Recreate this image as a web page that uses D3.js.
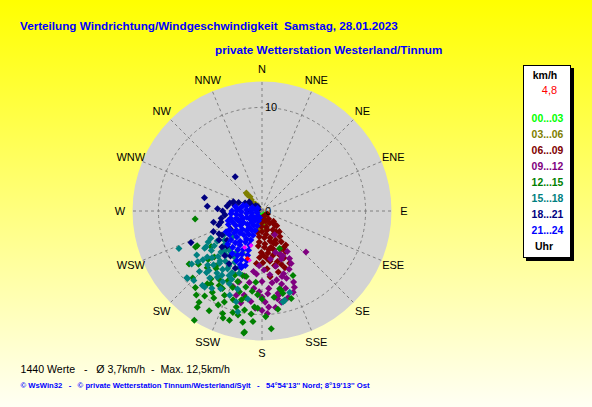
<!DOCTYPE html>
<html>
<head>
<meta charset="utf-8">
<script src="https://cdn.jsdelivr.net/npm/d3@7"></script>
<style>
    body { margin: 0; }
    svg { display: block; }
    text { font-family: "Liberation Sans", Arial, sans-serif; }
</style>
</head>
<body>
<svg id="chart"></svg>
<script>
'use strict';

// Himmelsrichtungen (im Uhrzeigersinn ab Nord) und Ringe der Geschwindigkeit
var directions = ["N", "NNE", "NE", "ENE", "E", "ESE", "SE", "SSE",
                  "S", "SSW", "SW", "WSW", "W", "WNW", "NW", "NNW"];
var speedTicks = [0, 10];
var speedMax = 12.5;

// Messwerte je Zeitraum: [Richtung in Grad, Geschwindigkeit km/h]
var h00_03 = [[160, 0.4], [200, 0.5], [180, 0.8], [140, 0.5], [170, 1.2]];

var h03_06 = [[318, 2.1], [316, 1.5], [317, 0.9], [315, 0.5], [320, 1.8], [312, 1.2],
              [319, 2.3], [193, 1.1], [167, 1.8], [175, 0.8], [160, 1.3], [150, 0.6], [188, 1.7]];

var h06_09 = [[120, 0.6], [150, 0.5], [175, 0.6], [140, 1.0], [160, 1.0], [180, 1.1], [195, 0.9],
              [132, 1.5], [148, 1.4], [165, 1.6], [182, 1.5], [135, 2.0], [150, 2.1], [165, 1.9],
              [180, 2.0], [192, 2.1], [140, 2.6], [152, 2.5], [163, 2.7], [175, 2.6], [186, 2.5],
              [145, 3.0], [155, 3.1], [165, 3.0], [175, 3.2], [185, 3.0], [148, 3.5], [157, 3.4],
              [166, 3.6], [176, 3.5], [186, 3.4], [145, 4.0], [154, 4.1], [163, 3.9], [172, 4.1],
              [181, 4.0], [150, 4.5], [158, 4.6], [166, 4.4], [174, 4.6], [183, 4.5], [155, 5.0],
              [163, 5.1], [171, 4.9], [179, 5.0], [186, 5.1], [152, 5.7], [160, 5.5], [167, 5.4],
              [175, 5.6], [165, 6.1], [173, 6.4], [158, 5.9], [149, 4.1], [138, 1.8], [146, 2.4],
              [170, 2.3], [160, 3.3], [170, 3.8], [178, 4.3]];

var h09_12 = [[133, 5.8], [151, 5.8], [156, 7.5], [157, 8.0], [168, 6.8], [169, 8.1], [176, 8.0],
              [177, 9.9], [180, 8.3], [161, 6.4], [178, 5.7], [185, 6.1], [159, 8.4], [178, 8.8],
              [184, 9.4], [176, 9.3], [169, 8.3], [163, 7.8], [152, 2.6], [157, 4.5], [163, 6.6],
              [192, 8.3], [197, 8.5], [190, 7.0], [198, 7.2], [172, 7.0], [165, 7.3], [160, 6.9],
              [155, 6.2], [150, 5.3], [158, 5.0], [166, 5.5], [173, 6.2], [180, 6.8], [186, 7.5],
              [182, 7.8], [175, 7.5], [170, 8.6], [163, 8.7], [187, 8.8], [193, 9.1], [172, 9.4],
              [168, 9.0], [180, 9.6], [155, 4.8], [162, 4.2], [148, 4.6], [188, 5.9], [195, 6.5],
              [201, 7.8], [183, 5.3], [170, 4.7]];

var h12_15 = [[234, 8.7], [241.5, 7.3], [214.6, 10.7], [213.9, 11.2], [211.8, 12.4], [207.9, 10.9],
              [201, 10.6], [200, 11.0], [196.6, 11.0], [189.8, 10.9], [188.2, 11.8], [193, 10.3],
              [195, 9.6], [202.5, 9.5], [186, 10.0], [211.4, 9.2], [209, 9.6], [209.9, 8.3],
              [204, 8.9], [216.9, 8.8], [217, 8.2], [195.6, 8.1], [190.7, 8.5], [201, 7.9],
              [206, 7.5], [218.6, 7.1], [193.6, 6.5], [184.5, 9.3], [175.5, 11.4], [184.7, 10.7],
              [188.5, 11.9], [165.8, 8.9], [166.3, 7.9], [154.3, 6.9], [154.9, 4.0], [167.2, 7.7],
              [165.8, 8.2], [161.5, 8.9], [170.8, 9.6], [182.5, 9.4], [241.8, 7.1], [263.2, 6.5],
              [226, 9.3], [226, 6.4], [196.7, 6.5], [221, 9.8], [230, 8.0], [224, 7.6], [212, 7.8],
              [198, 9.0], [205, 10.0], [193, 8.8], [187, 7.8], [180, 8.5], [172, 8.4], [178, 10.2],
              [215, 8.6], [220, 6.9], [235, 6.0], [228, 7.0], [199, 7.2], [192, 7.5], [185, 6.9],
              [207, 8.4], [214, 9.9], [203, 6.7], [190, 9.7], [218, 10.3], [196, 10.2], [183, 8.1]];

var h15_18 = [[245.7, 8.8], [231.7, 7.9], [230.4, 7.4], [225.1, 7.4], [221.7, 7.7], [237, 6.6],
              [225, 5.6], [219, 5.5], [219, 6.5], [214, 7.7], [209, 7.8], [204.2, 7.7], [210.8, 6.5],
              [197.4, 7.9], [193.5, 10.0], [217, 9.2], [227.8, 9.7], [224.4, 9.4], [228.4, 9.7],
              [218.7, 9.2], [237.4, 6.4], [201, 8.7], [195.9, 9.1], [189.2, 8.6], [167, 9.0],
              [161.2, 8.3], [165.8, 8.9], [205, 4.5], [212, 4.8], [220, 4.9], [228, 5.0], [236, 5.2],
              [242, 5.6], [208, 5.6], [216, 6.0], [224, 6.1], [232, 6.2], [240, 6.0], [206, 6.6],
              [214, 6.8], [222, 7.0], [230, 6.9], [204, 7.2], [212, 7.3], [218, 8.2], [226, 8.4],
              [208, 8.5], [200, 6.4], [232, 4.6], [234, 5.7], [229, 3.7], [238, 4.3], [236, 7.6],
              [210, 5.2], [217, 5.0], [223, 5.3], [211, 6.2], [220, 6.3], [227, 6.6], [216, 7.4],
              [202, 5.9], [213, 8.9], [222, 8.0], [233, 8.5], [207, 7.0]];

var h18_21 = [[322, 4.2], [283, 5.7], [275, 5.3], [284, 3.2], [282, 2.7], [273, 4.3], [264, 3.6],
              [257, 4.8], [255, 4.1], [247, 5.1], [242, 4.7], [246, 7.5], [239, 4.5], [230, 4.4],
              [300, 1.2], [310, 0.8], [295, 1.8], [290, 2.4], [305, 1.5], [315, 0.6], [288, 2.9],
              [278, 3.4], [270, 3.8], [260, 4.0], [252, 4.4], [236, 5.0], [228, 5.2], [220, 5.6],
              [212, 6.0], [205, 6.1], [290, 0.4], [270, 1.2], [250, 2.5], [240, 3.5], [225, 4.8],
              [215, 5.3]];

var h21_24 = [[250, 0.5], [280, 0.6], [300, 0.5], [220, 0.6], [200, 0.7],
              [200, 1.0], [215, 1.1], [230, 1.0], [245, 1.1], [260, 1.0], [275, 1.1], [290, 1.0],
              [198, 1.5], [210, 1.6], [222, 1.5], [235, 1.4], [248, 1.6], [262, 1.5], [275, 1.5], [288, 1.6],
              [199, 2.0], [208, 2.1], [218, 2.0], [228, 1.9], [238, 2.1], [248, 2.0], [258, 2.1],
              [268, 2.0], [278, 2.1], [286, 1.9],
              [200, 2.5], [209, 2.6], [218, 2.4], [227, 2.6], [236, 2.5], [245, 2.4], [254, 2.6],
              [263, 2.5], [272, 2.4], [279, 2.6],
              [201, 3.0], [209, 3.1], [217, 2.9], [225, 3.0], [233, 3.1], [241, 2.9], [249, 3.0],
              [257, 3.1], [265, 3.0], [270, 2.9],
              [200, 3.5], [208, 3.4], [216, 3.6], [224, 3.5], [232, 3.4], [240, 3.6], [248, 3.5], [254, 3.4],
              [199, 4.0], [206, 4.1], [213, 3.9], [220, 4.0], [227, 4.1], [234, 3.9], [240, 4.0],
              [198, 4.5], [205, 4.6], [212, 4.4], [219, 4.5], [226, 4.6],
              [197, 5.0], [203, 5.1], [209, 4.9], [215, 5.0],
              [197, 5.5], [202, 5.6], [207, 5.4], [200, 5.8]];

// letzte Werte und aktueller Wert
var lastValues = [[205.5, 3.9], [197.6, 3.5], [194.3, 4.9]];
var currentValue = [[197, 4.8]];
var currentLabel = "4,8";

var hourGroups = [
    { label: "00...03", color: "#00ff00", values: h00_03 },
    { label: "03...06", color: "#808000", values: h03_06 },
    { label: "06...09", color: "#800000", values: h06_09 },
    { label: "09...12", color: "#800080", values: h09_12 },
    { label: "12...15", color: "#008000", values: h12_15 },
    { label: "15...18", color: "#008080", values: h15_18 },
    { label: "18...21", color: "#000080", values: h18_21 },
    { label: "21...24", color: "#0000ff", values: h21_24 }
];

var width = 592, height = 407;
var cx = 262, cy = 211, radius = 129.5;

var svg = d3.select("#chart")
    .attr("width", width)
    .attr("height", height);

// background: yellow fading to white
var grad = svg.append("defs").append("linearGradient")
    .attr("id", "bg")
    .attr("x1", 0).attr("y1", 0).attr("x2", 0).attr("y2", 1);
grad.append("stop").attr("offset", "0%").attr("stop-color", "#ffff00");
grad.append("stop").attr("offset", "100%").attr("stop-color", "#fffff4");

svg.append("rect")
    .attr("width", width)
    .attr("height", height)
    .attr("fill", "url(#bg)");

// titles
svg.append("text")
    .attr("x", 20).attr("y", 29.5)
    .attr("fill", "#0000ff")
    .style("font-size", "11.7px").style("font-weight", "bold").style("white-space", "pre")
    .text("Verteilung Windrichtung/Windgeschwindigkeit  Samstag, 28.01.2023");

svg.append("text")
    .attr("x", 215).attr("y", 54)
    .attr("fill", "#0000ff")
    .style("font-size", "11.7px").style("font-weight", "bold")
    .text("private Wetterstation Westerland/Tinnum");

// polar plot
var r = d3.scaleLinear().domain([0, speedMax]).range([0, radius]);
var toRad = function(deg) { return deg * Math.PI / 180; };

var g = svg.append("g")
    .attr("transform", "translate(" + cx + "," + cy + ")");

g.append("circle")
    .attr("r", radius)
    .attr("fill", "#d3d3d3");

g.selectAll(".spoke")
    .data(directions)
    .enter().append("line")
    .attr("class", "spoke")
    .attr("x1", 0).attr("y1", 0)
    .attr("x2", function(d, i) { return d3.pointRadial(toRad(i * 22.5), radius)[0]; })
    .attr("y2", function(d, i) { return d3.pointRadial(toRad(i * 22.5), radius)[1]; })
    .attr("stroke", "#808080")
    .attr("stroke-dasharray", "3,3");

g.selectAll(".ring")
    .data(speedTicks.filter(function(d) { return d > 0; }))
    .enter().append("circle")
    .attr("class", "ring")
    .attr("r", function(d) { return r(d); })
    .attr("fill", "none")
    .attr("stroke", "#808080")
    .attr("stroke-dasharray", "3,3");

// points, drawn in time order
var diamond = d3.symbol().type(d3.symbolSquare).size(25);

function drawPoints(values, color, size) {
    g.append("g").selectAll("path")
        .data(values)
        .enter().append("path")
        .attr("d", size ? d3.symbol().type(d3.symbolSquare).size(size) : diamond)
        .attr("transform", function(d) {
            var p = d3.pointRadial(toRad(d[0]), r(d[1]));
            return "translate(" + p[0] + "," + p[1] + ") rotate(45)";
        })
        .attr("fill", color);
}

hourGroups.forEach(function(grp) { drawPoints(grp.values, grp.color); });
drawPoints(lastValues, "#ff00ff", 12);
drawPoints(currentValue, "#ff0000", 14);

// speed labels
g.selectAll(".tickLabel")
    .data(speedTicks)
    .enter().append("text")
    .attr("class", "tickLabel")
    .attr("x", 3)
    .attr("y", function(d) { return -r(d); })
    .attr("dy", "0.35em")
    .style("font-size", "11px")
    .text(function(d) { return d; });

// direction labels
g.selectAll(".dirLabel")
    .data(directions)
    .enter().append("text")
    .attr("class", "dirLabel")
    .attr("x", function(d, i) { return d3.pointRadial(toRad(i * 22.5), 142)[0]; })
    .attr("y", function(d, i) { return d3.pointRadial(toRad(i * 22.5), 142)[1]; })
    .attr("dy", "0.36em")
    .attr("text-anchor", "middle")
    .style("font-size", "11px")
    .text(function(d) { return d; });

// legend
var legend = svg.append("g");
legend.append("rect")
    .attr("x", 526).attr("y", 68).attr("width", 48).attr("height", 193)
    .attr("fill", "#000");
legend.append("rect")
    .attr("x", 523.5).attr("y", 65.5).attr("width", 47).attr("height", 192)
    .attr("fill", "#fff").attr("stroke", "#000");

legend.append("text")
    .attr("x", 545).attr("y", 79)
    .attr("text-anchor", "middle")
    .style("font-size", "10.5px").style("font-weight", "bold")
    .text("km/h");
legend.append("text")
    .attr("x", 549.5).attr("y", 94)
    .attr("text-anchor", "middle")
    .attr("fill", "#ff0000")
    .style("font-size", "11px")
    .text(currentLabel);

legend.selectAll(".legRow")
    .data(hourGroups)
    .enter().append("text")
    .attr("class", "legRow")
    .attr("x", 547.5)
    .attr("y", function(d, i) { return 122 + i * 16; })
    .attr("text-anchor", "middle")
    .attr("fill", function(d) { return d.color; })
    .style("font-size", "10.4px").style("font-weight", "bold")
    .text(function(d) { return d.label; });

legend.append("text")
    .attr("x", 544).attr("y", 250)
    .attr("text-anchor", "middle")
    .style("font-size", "10.5px").style("font-weight", "bold")
    .text("Uhr");

// footer
svg.append("text")
    .attr("x", 20.5).attr("y", 373)
    .style("font-size", "10.6px").style("white-space", "pre")
    .text("1440 Werte   -   \u00d8 3,7km/h  -  Max. 12,5km/h");

svg.append("text")
    .attr("x", 20.5).attr("y", 388)
    .attr("fill", "#0000ff")
    .attr("textLength", 349).attr("lengthAdjust", "spacingAndGlyphs")
    .style("font-size", "7.5px").style("font-weight", "bold").style("white-space", "pre")
    .text("\u00a9 WsWin32   -   \u00a9 private Wetterstation Tinnum/Westerland/Sylt   -   54\u00b054'13'' Nord; 8\u00b019'13'' Ost");
</script>
</body>
</html>
